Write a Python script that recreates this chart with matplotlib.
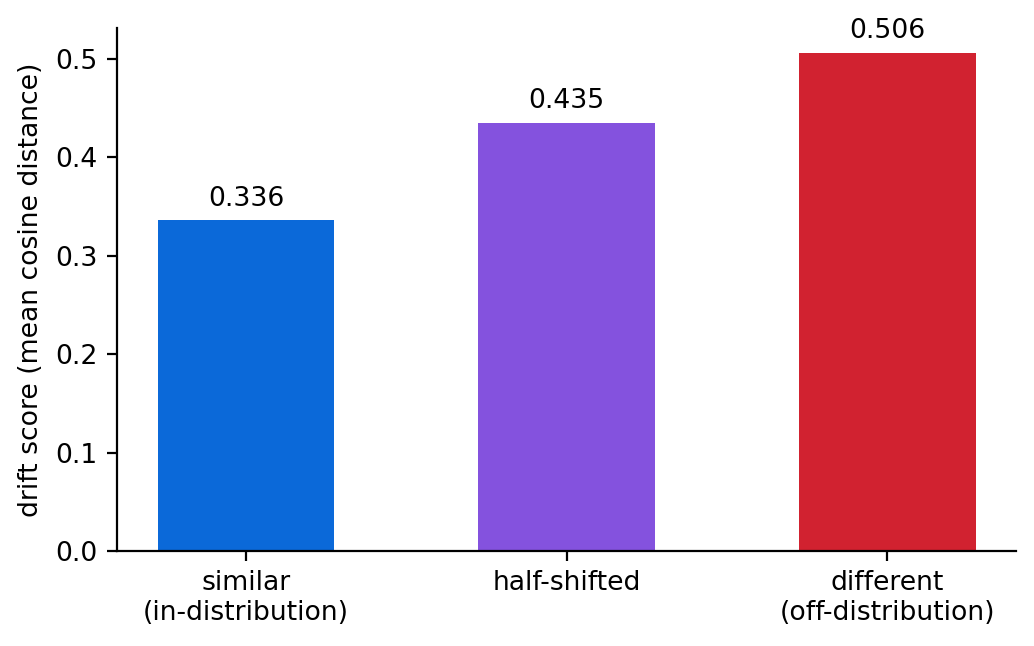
import matplotlib
matplotlib.use("Agg")
import matplotlib.pyplot as plt

# drift score per query set
categories = ["similar\n(in-distribution)", "half-shifted", "different\n(off-distribution)"]
scores = [0.336, 0.435, 0.506]
colors = ["#0b69d9", "#8452de", "#d12230"]

fs = 9.6
fig = plt.figure(figsize=(5.17, 3.23), dpi=200)
ax = fig.add_axes([0.113, 0.147, 0.870, 0.810])

bars = ax.bar(range(len(scores)), scores, width=0.55, color=colors)
for b, v in zip(bars, scores):
    ax.annotate(f"{v:.3f}", (b.get_x() + b.get_width() / 2, v),
                xytext=(0, 3), textcoords="offset points",
                ha="center", va="bottom", fontsize=fs)

ax.set_xticks(range(len(scores)))
ax.set_xticklabels(categories, fontsize=fs)
ax.tick_params(axis="y", labelsize=fs)
ax.set_ylabel("drift score (mean cosine distance)", fontsize=fs)
ax.spines["top"].set_visible(False)
ax.spines["right"].set_visible(False)

fig.savefig("out.png", dpi=200)
